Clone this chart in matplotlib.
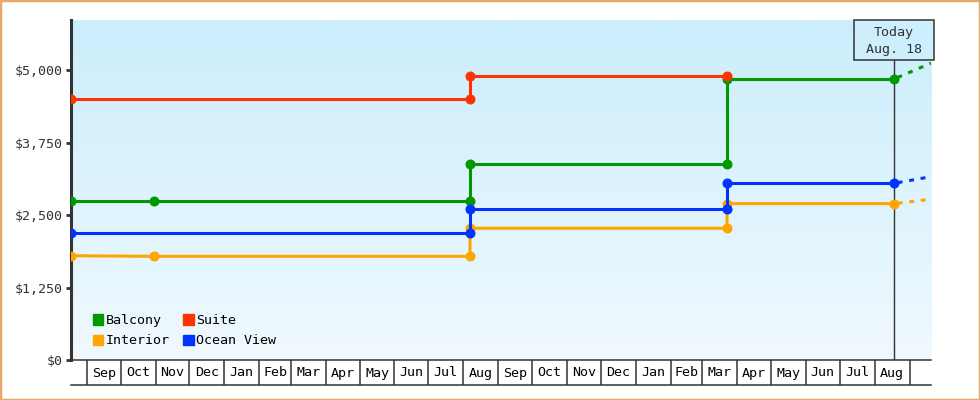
import numpy as np
import matplotlib.pyplot as plt
import matplotlib.dates as mdates
from matplotlib.colors import LinearSegmentedColormap
from matplotlib.patches import Patch, Rectangle
from matplotlib.transforms import blended_transform_factory

# Data (prices)
start_date = np.datetime64('2016-08-18')
end_date = np.datetime64('2018-09-20')
today = np.datetime64('2018-08-18')

balcony_dates = ['2016-08-18', '2016-10-31', '2017-08-07', '2017-08-07', '2018-03-23', '2018-03-23', '2018-08-18']
balcony_prices = [2750, 2750, 2750, 3380, 3380, 4850, 4850]
suite_dates = ['2016-08-18', '2017-08-07', '2017-08-07', '2018-03-23']
suite_prices = [4500, 4500, 4900, 4900]
interior_dates = ['2016-08-18', '2016-10-31', '2017-08-07', '2017-08-07', '2018-03-23', '2018-03-23', '2018-08-18']
interior_prices = [1800, 1790, 1790, 2275, 2275, 2700, 2700]
ocean_dates = ['2016-08-18', '2017-08-07', '2017-08-07', '2018-03-23', '2018-03-23', '2018-08-18']
ocean_prices = [2200, 2200, 2600, 2600, 3050, 3050]

# projected trend after today
future_dates = ['2018-08-18', '2018-09-20']
balcony_future = [4850, 5125]
interior_future = [2700, 2775]
ocean_future = [3050, 3165]

yticks = [0, 1250, 2500, 3750, 5000]

GREEN = '#009900'
RED = '#ff3300'
ORANGE = '#ffa500'
BLUE = '#0033ff'
DARK = '#333333'
FONT = 'DejaVu Sans Mono'
FS = 9.6

plt.rcParams['font.family'] = FONT

fig = plt.figure(figsize=(9.8, 4.0), dpi=100)
ax = fig.add_axes([71 / 980, 40 / 400, 860 / 980, 340 / 400])

x0 = mdates.date2num(start_date)
x1 = mdates.date2num(end_date)
y1 = 5870

# gradient background
cmap = LinearSegmentedColormap.from_list('bg', ['#f0f9fe', '#cbeefc'])
ax.imshow(np.linspace(0, 1, 256).reshape(-1, 1), cmap=cmap, origin='lower',
          extent=[0, 1, 0, 1], transform=ax.transAxes, aspect='auto', zorder=0)


def d(lst):
    return mdates.date2num(np.array(lst, dtype='datetime64[D]'))


lw = 2.2
ms = 6.2
dash = (2.5, (1.6, 2.2))
ax.plot(d(interior_dates), interior_prices, color=ORANGE, lw=lw, marker='o', ms=ms, zorder=3)
ax.plot(d(future_dates), interior_future, color=ORANGE, lw=lw, ls=dash, zorder=3)
ax.plot(d(balcony_dates), balcony_prices, color=GREEN, lw=lw, marker='o', ms=ms, zorder=4)
ax.plot(d(future_dates), balcony_future, color=GREEN, lw=lw, ls=dash, zorder=4)
ax.plot(d(ocean_dates), ocean_prices, color=BLUE, lw=lw, marker='o', ms=ms, zorder=5)
ax.plot(d(future_dates), ocean_future, color=BLUE, lw=lw, ls=dash, zorder=5)
ax.plot(d(suite_dates), suite_prices, color=RED, lw=lw, marker='o', ms=ms, zorder=6)

ax.set_xlim(x0, x1)
ax.set_ylim(0, y1)

# spines
for s in ['top', 'right']:
    ax.spines[s].set_visible(False)
ax.spines['left'].set_linewidth(2.2)
ax.spines['left'].set_color(DARK)
ax.spines['bottom'].set_linewidth(1.1)
ax.spines['bottom'].set_color(DARK)

# y axis
ax.set_yticks(yticks)
ax.set_yticklabels([f'${v:,}' for v in yticks], fontsize=FS, color=DARK)
ax.tick_params(axis='y', length=3.8, width=2.0, color=DARK, pad=2)

# month cells along the x axis
month_starts = np.arange(np.datetime64('2016-09'), np.datetime64('2018-10'), np.timedelta64(1, 'M'))
ms_num = mdates.date2num(month_starts.astype('datetime64[D]'))
ax.set_xticks(ms_num)
ax.set_xticklabels([''] * len(ms_num))
ax.tick_params(axis='x', length=18, width=1.1, color=DARK, direction='out')

trans = blended_transform_factory(ax.transData, ax.transAxes)
cell_h = 25 / 340
for a, b in zip(ms_num[:-1], ms_num[1:]):
    label = mdates.num2date(a).strftime('%b')
    ax.text((a + b) / 2, -13 / 340, label, transform=trans, ha='center', va='center',
            fontsize=FS, color='black')
ax.plot([0, 1], [-cell_h, -cell_h], transform=ax.transAxes, color=DARK, lw=1.1, clip_on=False)

# today marker
t = mdates.date2num(today)
box_y = (360 - 60) / 340
ax.plot([t, t], [0, box_y], transform=trans, color=DARK, lw=1.0, zorder=2)
half_w = 40 / (860 / (x1 - x0))
ax.add_patch(Rectangle((t - half_w, box_y), 2 * half_w, 1 - box_y, transform=trans,
                       facecolor='#cdeffd', edgecolor=DARK, lw=1.1, clip_on=False, zorder=7))
ax.text(t, (360 - 41) / 340, 'Today\nAug. 18', transform=trans, ha='center', va='center',
        fontsize=FS, color=DARK, linespacing=1.35, zorder=8)

# legend
handles = [Patch(color=GREEN, label='Balcony'), Patch(color=ORANGE, label='Interior'),
           Patch(color=RED, label='Suite'), Patch(color=BLUE, label='Ocean View')]
ax.legend(handles=handles, ncol=2, loc='upper left', bbox_to_anchor=(0.025, 0.135),
          frameon=False, fontsize=FS, handlelength=0.8, handleheight=0.8,
          handletextpad=0.2, columnspacing=1.0, labelspacing=0.55,
          borderpad=0, borderaxespad=0)

# outer border
fig.patches.append(Rectangle((0, 0), 1, 1, transform=fig.transFigure, fill=False,
                             edgecolor='#e9a865', lw=2.5))

fig.savefig('out.png', dpi=100)
